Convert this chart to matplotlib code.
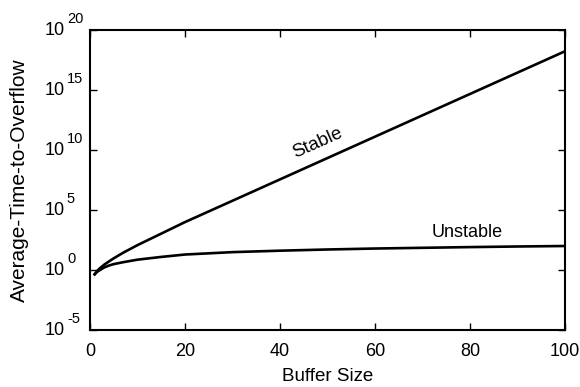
import numpy as np
import matplotlib
matplotlib.use('Agg')
import matplotlib.pyplot as plt

plt.rcParams['font.family'] = ['Liberation Sans', 'DejaVu Sans']
plt.rcParams['font.size'] = 13

# values (log10 of average time to overflow)
stable_x = [1, 1.5, 2, 3, 4, 5, 7, 10, 15, 20, 30, 40, 50, 60, 70, 80, 90, 100]
stable_log = [-0.35, -0.08, 0.12, 0.45, 0.72, 0.98, 1.45, 2.08, 3.04, 4.0,
              5.78, 7.56, 9.34, 11.12, 12.9, 14.68, 16.46, 18.24]
unstable_x = [1, 1.5, 2, 3, 4, 5, 7, 10, 15, 20, 30, 40, 50, 60, 70, 80, 90, 100]
unstable_log = [-0.35, -0.15, -0.02, 0.22, 0.38, 0.5, 0.66, 0.87, 1.1, 1.3,
                1.5, 1.62, 1.72, 1.8, 1.86, 1.92, 1.97, 2.01]
y_exponents = [-5, 0, 5, 10, 15, 20]
x_ticks = [0, 20, 40, 60, 80, 100]

fig = plt.figure(figsize=(5.8, 3.87), dpi=100)
ax = fig.add_axes([0.155, 0.147, 0.819, 0.775])

ax.plot(stable_x, 10 ** np.array(stable_log), color='black', lw=1.9)
ax.plot(unstable_x, 10 ** np.array(unstable_log), color='black', lw=1.9)

ax.set_yscale('log')
ax.set_xlim(0, 100)
ax.set_ylim(1e-5, 1e20)
ax.set_xticks(x_ticks)
ax.set_yticks([10.0 ** e for e in y_exponents])
ax.set_yticklabels([])
ax.yaxis.set_minor_locator(matplotlib.ticker.NullLocator())
ax.tick_params(direction='in', top=True, right=True, length=5, width=1, labelsize=13)
ax.tick_params(axis='x', pad=9)
for s in ax.spines.values():
    s.set_linewidth(1.5)

# y tick labels drawn as "10" plus a raised exponent, like the original
for e in y_exponents:
    ax.annotate('10', xy=(0, 10.0 ** e), xycoords=('axes fraction', 'data'),
                xytext=(-45, 0), textcoords='offset pixels',
                ha='left', va='center', fontsize=13)
    ax.annotate(str(e), xy=(0, 10.0 ** e), xycoords=('axes fraction', 'data'),
                xytext=(-23, 7), textcoords='offset pixels',
                ha='left', va='baseline', fontsize=10.5)

ax.set_xlabel('Buffer Size', fontsize=13.5)
ax.xaxis.set_label_coords(0.5, -0.125)
ax.set_ylabel('Average-Time-to-Overflow', fontsize=15)
ax.yaxis.set_label_coords(-0.128, 0.5)

ax.text(48, 10 ** 10.6, 'Stable', rotation=24, ha='center', va='center', fontsize=13.5)
ax.text(79.5, 10 ** 3.1, 'Unstable', ha='center', va='center', fontsize=13)

fig.savefig('out.png', dpi=100)
